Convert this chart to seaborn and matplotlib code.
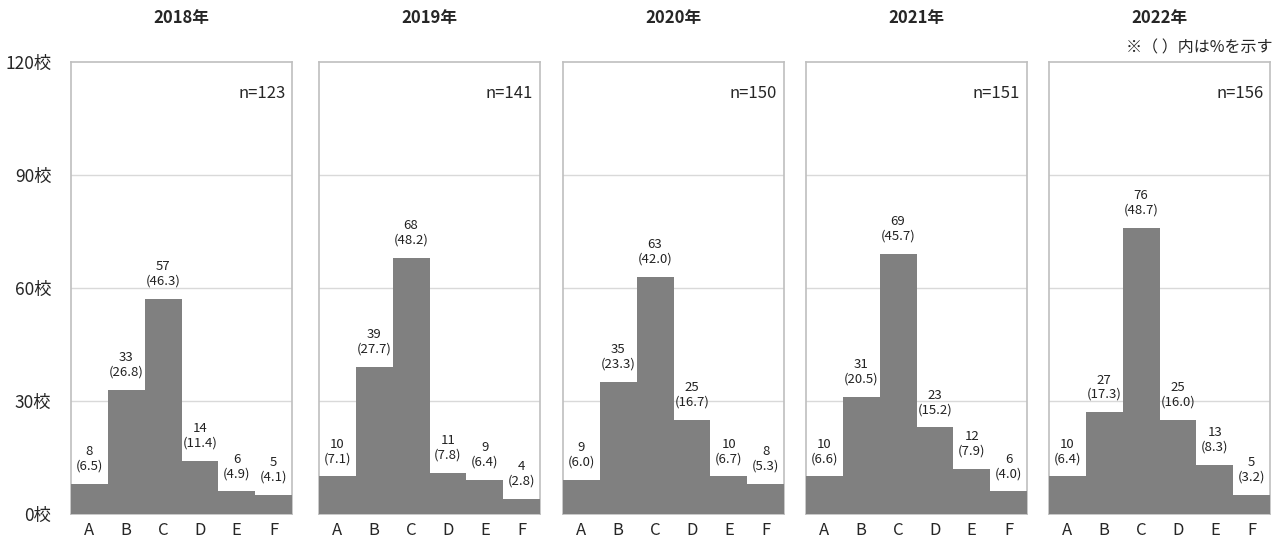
import numpy as np
import pandas as pd
import seaborn as sns
import matplotlib.pyplot as plt

# データ
years = ['2018年', '2019年', '2020年', '2021年', '2022年']
categories = ['A', 'B', 'C', 'D', 'E', 'F']
counts_2018 = [8, 33, 57, 14, 6, 5]
counts_2019 = [10, 39, 68, 11, 9, 4]
counts_2020 = [9, 35, 63, 25, 10, 8]
counts_2021 = [10, 31, 69, 23, 12, 6]
counts_2022 = [10, 27, 76, 25, 13, 5]
pct_2018 = [6.5, 26.8, 46.3, 11.4, 4.9, 4.1]
pct_2019 = [7.1, 27.7, 48.2, 7.8, 6.4, 2.8]
pct_2020 = [6.0, 23.3, 42.0, 16.7, 6.7, 5.3]
pct_2021 = [6.6, 20.5, 45.7, 15.2, 7.9, 4.0]
pct_2022 = [6.4, 17.3, 48.7, 16.0, 8.3, 3.2]
n_totals = [123, 141, 150, 151, 156]
y_ticks = [0, 30, 60, 90, 120]

counts = [counts_2018, counts_2019, counts_2020, counts_2021, counts_2022]
pcts = [pct_2018, pct_2019, pct_2020, pct_2021, pct_2022]

sns.set_style('white')
plt.rcParams['font.family'] = ['Noto Sans CJK JP', 'DejaVu Sans']

fig = plt.figure(figsize=(12.82, 5.46), dpi=100)
W, H = 1282, 546
lefts = [71, 319, 563, 806, 1049]
pw = 221
top, bottom = 62, 514

for i, year in enumerate(years):
    ax = fig.add_axes([lefts[i] / W, 1 - bottom / H, pw / W, (bottom - top) / H])
    df = pd.DataFrame({'cat': categories, 'n': counts[i]})
    sns.barplot(data=df, x='cat', y='n', color='#808080', width=1.0,
                saturation=1, edgecolor='none', ax=ax, zorder=3)
    ax.set_ylim(0, 120)
    ax.set_xlim(-0.5, 5.5)
    ax.set_yticks(y_ticks)
    for t in y_ticks[1:-1]:
        ax.axhline(t, color='#d9d9d9', lw=1, zorder=1)
    for s in ax.spines.values():
        s.set_color('#bfbfbf')
        s.set_linewidth(1.2)
    if i == 0:
        ax.set_yticklabels([f'{t}校' for t in y_ticks], fontsize=12.5)
        ax.tick_params(axis='y', length=0, pad=14)
    else:
        ax.set_yticklabels([])
        ax.tick_params(axis='y', length=0)
    ax.tick_params(axis='x', length=0, labelsize=12, pad=6)
    ax.set_xlabel('')
    ax.set_ylabel('')
    for j, (v, p) in enumerate(zip(counts[i], pcts[i])):
        ax.text(j, v + 3, f'{v}\n({p:.1f})', ha='center', va='bottom',
                fontsize=9.5, linespacing=1.15, color='#222222')
    ax.text(0.97, 0.95, f'n={n_totals[i]}', transform=ax.transAxes,
            ha='right', va='top', fontsize=12)
    fig.text((lefts[i] + pw / 2) / W, 1 - 18 / H, year, ha='center', va='center',
             fontsize=12, fontweight='bold')

fig.text(1272 / W, 1 - 48 / H, '※（ ）内は%を示す', ha='right', va='center', fontsize=11.5)

fig.savefig('out.png', dpi=100)
